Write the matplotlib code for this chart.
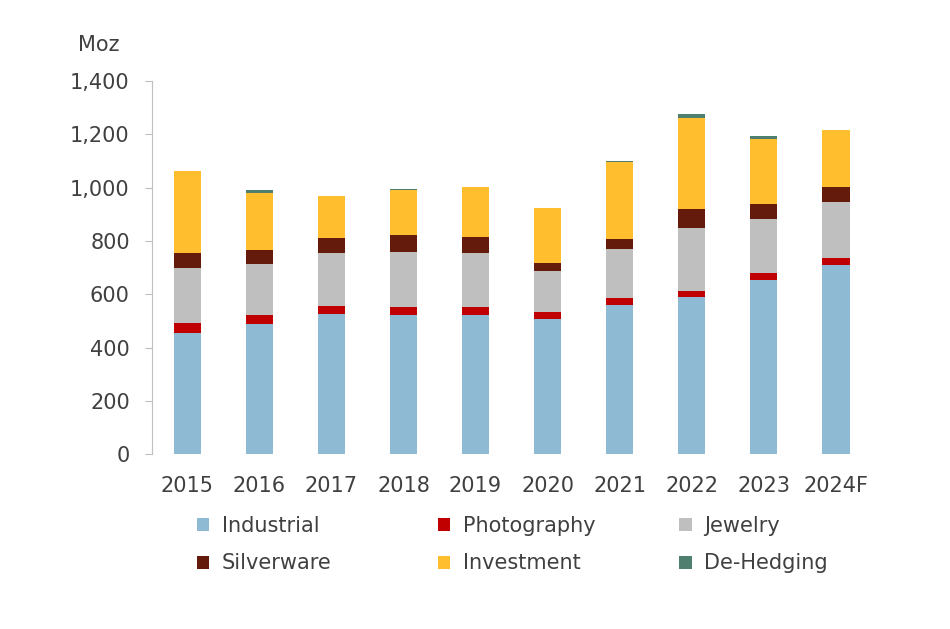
import numpy as np
import matplotlib.pyplot as plt
from matplotlib.patches import Patch

# ---- data (Moz) ----
years = ['2015', '2016', '2017', '2018', '2019', '2020', '2021', '2022', '2023', '2024F']
industrial = [455, 488, 525, 522, 522, 509, 561, 588, 653, 711]
photography = [38, 34, 30, 31, 31, 25, 26, 26, 28, 26]
jewelry = [204, 190, 199, 204, 201, 153, 182, 235, 202, 210]
silverware = [57, 53, 58, 65, 61, 31, 40, 72, 55, 56]
investment = [308, 216, 156, 169, 186, 207, 288, 339, 244, 213]
dehedging = [0, 10, 0, 5, 0, 0, 2, 16, 12, 0]

labels = ['Industrial', 'Photography', 'Jewelry', 'Silverware', 'Investment', 'De-Hedging']
colors = ['#8FBAD3', '#C00000', '#BFBFBF', '#651B0B', '#FFBE2D', '#4F7F6E']
series = [industrial, photography, jewelry, silverware, investment, dehedging]

txt = '#404040'
plt.rcParams['font.family'] = 'DejaVu Sans'

fig = plt.figure(figsize=(9.5, 6.29), dpi=100)
ax = fig.add_axes([0.16, 0.278, 0.757, 0.593])

x = np.arange(len(years))
bottom = np.zeros(len(years))
for vals, col in zip(series, colors):
    ax.bar(x, vals, 0.38, bottom=bottom, color=col, linewidth=0)
    bottom += np.array(vals)

ax.set_xlim(-0.49, len(years) - 0.51)
ax.set_ylim(0, 1400)
ax.set_yticks(range(0, 1401, 200))
ax.set_yticklabels([f'{v:,}' for v in range(0, 1401, 200)])
ax.set_xticks(x)
ax.set_xticklabels(years)

for s in ['top', 'right', 'bottom']:
    ax.spines[s].set_visible(False)
ax.spines['left'].set_color('#BFBFBF')
ax.tick_params(axis='y', length=5, color='#BFBFBF', pad=11, labelsize=15, labelcolor=txt)
ax.tick_params(axis='x', length=0, pad=16, labelsize=15, labelcolor=txt)

fig.text(0.082, 0.928, 'Moz', fontsize=15, color=txt, ha='left', va='center')

# legend: three columns placed by hand
col_x = [0.207, 0.461, 0.715]
for i in range(3):
    hs = [Patch(facecolor=colors[i], edgecolor='none'),
          Patch(facecolor=colors[i + 3], edgecolor='none')]
    leg = fig.legend(hs, [labels[i], labels[i + 3]], loc='upper left',
                     bbox_to_anchor=(col_x[i], 0.180), frameon=False,
                     fontsize=15, handlelength=0.6, handleheight=0.6,
                     handletextpad=0.6, labelspacing=0.85, borderpad=0, borderaxespad=0)
    for t in leg.get_texts():
        t.set_color(txt)

fig.savefig('out.png', dpi=100)
